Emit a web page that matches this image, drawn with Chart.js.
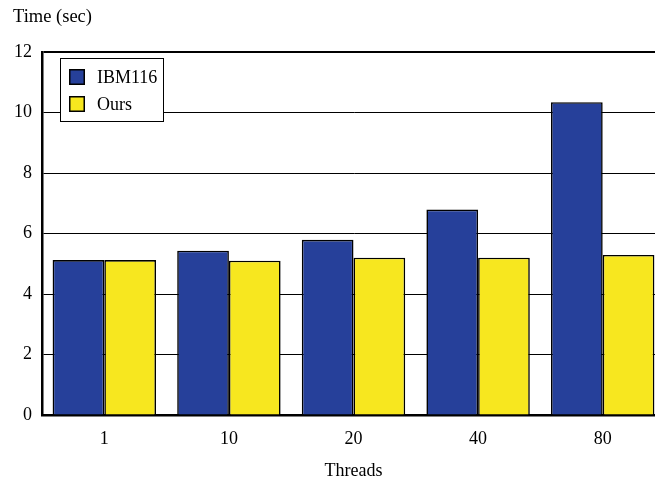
<!DOCTYPE html>
<html>
<head>
<meta charset="utf-8">
<script src="https://cdn.jsdelivr.net/npm/chart.js@4.4.1/dist/chart.umd.min.js"></script>
<style>
  html, body { margin: 0; padding: 0; background: #fff; overflow: hidden; width: 655px; height: 482px; }
  #wrap { width: 665px; height: 482px; }
</style>
</head>
<body>
<div id="wrap"><canvas id="c" width="665" height="482"></canvas></div>
<script>
const categories = ['1', '10', '20', '40', '80'];
const seriesNames = ['IBM116', 'Ours'];
const ibm116 = [5.12, 5.43, 5.79, 6.79, 10.34];
const ours = [5.12, 5.10, 5.20, 5.20, 5.29];
const yTicks = [0, 2, 4, 6, 8, 10, 12];
const yAxisTitle = 'Time (sec)';
const xAxisTitle = 'Threads';

const FONT = 'Liberation Serif, Times New Roman, serif';
const BLUE = '#26409a';
const YELLOW = '#f7e71f';

const overlay = {
  id: 'overlay',
  afterDatasetsDraw(chart) {
    const ctx = chart.ctx;
    const a = chart.chartArea;
    ctx.save();
    // legend box
    const bx = a.left + 18, by = a.top + 6, bw = 104, bh = 64;
    ctx.fillStyle = '#fff';
    ctx.fillRect(bx, by, bw, bh);
    ctx.strokeStyle = '#000';
    ctx.lineWidth = 1;
    ctx.strokeRect(bx + 0.5, by + 0.5, bw - 1, bh - 1);
    ctx.font = '18px ' + FONT;
    ctx.textBaseline = 'middle';
    ctx.textAlign = 'left';
    chart.data.datasets.forEach((ds, i) => {
      const sx = bx + 9, sy = by + 11 + i * 27;
      ctx.fillStyle = ds.backgroundColor;
      ctx.fillRect(sx, sy, 16, 16);
      ctx.strokeStyle = '#000';
      ctx.lineWidth = 1.5;
      ctx.strokeRect(sx + 0.75, sy + 0.75, 14.5, 14.5);
      ctx.fillStyle = '#000';
      ctx.fillText(ds.label, sx + 28, sy + 9);
    });
    // y-axis title (horizontal, above the axis)
    ctx.font = '18.5px ' + FONT;
    ctx.fillStyle = '#000';
    ctx.textBaseline = 'middle';
    ctx.fillText(yAxisTitle, 13, 17);
    ctx.restore();
  }
};

new Chart(document.getElementById('c'), {
  type: 'bar',
  data: {
    labels: categories,
    datasets: [
      { label: seriesNames[0], data: ibm116, backgroundColor: BLUE, borderColor: '#000', borderWidth: 1.6 },
      { label: seriesNames[1], data: ours, backgroundColor: YELLOW, borderColor: '#000', borderWidth: 1.6 }
    ]
  },
  options: {
    responsive: false,
    animation: false,
    events: [],
    layout: { padding: { top: 52, left: 0, right: 0, bottom: 0 } },
    datasets: { bar: { categoryPercentage: 0.83, barPercentage: 1.0 } },
    plugins: { legend: { display: false }, tooltip: { enabled: false }, title: { display: false } },
    scales: {
      x: {
        z: 1,
        grid: { display: false, drawTicks: false },
        border: { display: true, color: '#000', width: 2.5 },
        ticks: { color: '#000', font: { family: FONT, size: 18 }, padding: 13, maxRotation: 0 },
        title: { display: true, text: xAxisTitle, color: '#000', font: { family: FONT, size: 18 }, padding: { top: 4, bottom: 0 } },
        afterFit(s) { s.height = 67; }
      },
      y: {
        min: 0, max: 12,
        afterBuildTicks(s) { s.ticks = yTicks.map(v => ({ value: v })); },
        grid: {
          drawTicks: false,
          color: '#000',
          lineWidth: (c) => (c.tick && c.tick.value === 12 ? 2 : 1)
        },
        border: { display: true, color: '#000', width: 2.5 },
        ticks: { color: '#000', font: { family: FONT, size: 18 }, padding: 10 },
        afterFit(s) { s.width = 42; }
      }
    }
  },
  plugins: [overlay]
});
</script>
</body>
</html>
